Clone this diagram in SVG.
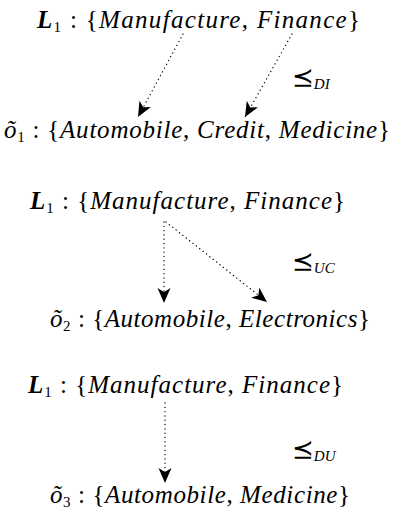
<svg xmlns="http://www.w3.org/2000/svg" width="394" height="513" viewBox="0 0 394 513">
<style>
text{font-family:"Liberation Serif","DejaVu Serif",serif;font-size:25px;fill:#000}
.i{font-style:italic}
.b{font-weight:bold;font-style:italic}
.s{font-size:15px}
.lab{font-family:"DejaVu Serif","DejaVu Sans",serif}
.conn line{stroke:#000;stroke-width:1.3;stroke-dasharray:0.1 4.2;stroke-linecap:round;fill:none}
</style>
<defs>
<marker id="ah" markerUnits="userSpaceOnUse" markerWidth="17" markerHeight="15" refX="15" refY="6.5" orient="auto">
<path d="M0,0 L15,6.5 L0,13 L4,6.5 z" fill="#000"/>
</marker>
</defs>
<g id="top1"><text x="37" y="28" textLength="323"><tspan class="b">L</tspan><tspan class="s" dy="4">1</tspan><tspan dy="-4"> : {</tspan><tspan class="i">Manufacture</tspan>, <tspan class="i">Finance</tspan>}</text></g>
<g id="bot1"><text x="4" y="138" textLength="386"><tspan class="i">õ</tspan><tspan class="s" dy="4">1</tspan><tspan dy="-4"> : {</tspan><tspan class="i">Automobile</tspan>, <tspan class="i">Credit</tspan>, <tspan class="i">Medicine</tspan>}</text></g>
<g id="lab1"><text x="292" y="86"><tspan class="lab" font-size="26">⪯</tspan><tspan class="i s" dy="3">DI</tspan></text></g>

<g id="top2"><text x="30" y="209" textLength="315"><tspan class="b">L</tspan><tspan class="s" dy="4">1</tspan><tspan dy="-4"> : {</tspan><tspan class="i">Manufacture</tspan>, <tspan class="i">Finance</tspan>}</text></g>
<g id="bot2"><text x="50" y="327" textLength="320"><tspan class="i">õ</tspan><tspan class="s" dy="4">2</tspan><tspan dy="-4"> : {</tspan><tspan class="i">Automobile</tspan>, <tspan class="i">Electronics</tspan>}</text></g>
<g id="lab2"><text x="292" y="270"><tspan class="lab" font-size="26">⪯</tspan><tspan class="i s" dy="3">UC</tspan></text></g>

<g id="top3"><text x="28" y="393" textLength="315"><tspan class="b">L</tspan><tspan class="s" dy="4">1</tspan><tspan dy="-4"> : {</tspan><tspan class="i">Manufacture</tspan>, <tspan class="i">Finance</tspan>}</text></g>
<g id="bot3"><text x="50" y="503" textLength="300"><tspan class="i">õ</tspan><tspan class="s" dy="4">3</tspan><tspan dy="-4"> : {</tspan><tspan class="i">Automobile</tspan>, <tspan class="i">Medicine</tspan>}</text></g>
<g id="lab3"><text x="292" y="458"><tspan class="lab" font-size="26">⪯</tspan><tspan class="i s" dy="3">DU</tspan></text></g>

<g class="conn" id="connectors">
<line x1="183" y1="34" x2="138" y2="117" marker-end="url(#ah)"/>
<line x1="292" y1="34" x2="245" y2="117" marker-end="url(#ah)"/>
<line x1="164" y1="222" x2="164" y2="303" marker-end="url(#ah)"/>
<line x1="166" y1="222" x2="267" y2="302" marker-end="url(#ah)"/>
<line x1="165" y1="403" x2="165" y2="483" marker-end="url(#ah)"/>
</g>
</svg>
